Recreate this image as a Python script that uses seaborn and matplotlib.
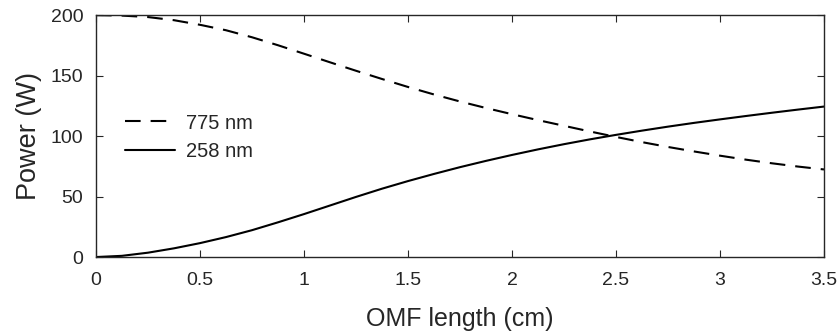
import numpy as np
import pandas as pd
import matplotlib
matplotlib.use("Agg")
import matplotlib.pyplot as plt
import seaborn as sns

length_cm = [0.0, 0.125, 0.25, 0.375, 0.5, 0.625, 0.75, 0.875, 1.0, 1.125, 1.25, 1.375,
             1.5, 1.625, 1.75, 1.875, 2.0, 2.125, 2.25, 2.375, 2.5, 2.625, 2.75, 2.875,
             3.0, 3.125, 3.25, 3.375, 3.5]
power_775 = [200, 199.6, 198.4, 195.8, 192, 187.5, 181.7, 175.1, 168.1, 161, 154, 147.2,
             140.6, 134.4, 128.6, 123.2, 118.1, 113.2, 108.5, 103.8, 99.3, 95.0, 91.0, 87.3,
             83.8, 80.5, 77.5, 74.8, 72.4]
power_258 = [0, 1.0, 3.6, 7.2, 11.5, 16.5, 22.2, 28.7, 35.5, 42.6, 49.7, 56.5,
             62.8, 68.7, 74.3, 79.5, 84.4, 89.0, 93.3, 97.3, 101.0, 104.5, 107.8, 110.9,
             113.8, 116.6, 119.3, 121.9, 124.4]
series_labels = ["775 nm", "258 nm"]
x_ticks = [0, 0.5, 1, 1.5, 2, 2.5, 3, 3.5]
x_tick_labels = ["0", "0.5", "1", "1.5", "2", "2.5", "3", "3.5"]
y_ticks = [0, 50, 100, 150, 200]

sns.set_theme(style="white")
plt.rcParams["font.family"] = ["Liberation Sans", "DejaVu Sans"]
txt = "#262626"

fig = plt.figure(figsize=(8.39, 3.36), dpi=100)
ax = fig.add_axes([0.1144, 0.235, 0.8677, 0.720])

df = pd.DataFrame({"x": length_cm * 2,
                   "y": power_775 + power_258,
                   "s": [series_labels[0]] * len(length_cm) + [series_labels[1]] * len(length_cm)})

sns.lineplot(data=df[df.s == series_labels[0]], x="x", y="y", ax=ax, color="black",
             lw=1.5, label=series_labels[0], dashes=False)
sns.lineplot(data=df[df.s == series_labels[1]], x="x", y="y", ax=ax, color="black",
             lw=1.5, label=series_labels[1], dashes=False)
ax.lines[0].set_dashes((7.5, 4.8))

ax.set_xlim(0, 3.5)
ax.set_ylim(0, 200)
ax.set_xticks(x_ticks)
ax.set_xticklabels(x_tick_labels)
ax.set_yticks(y_ticks)
ax.set_xlabel("OMF length (cm)", fontsize=18, color=txt)
ax.set_ylabel("Power (W)", fontsize=19.5, color=txt)
ax.xaxis.set_label_coords(0.5, -0.205)
ax.yaxis.set_label_coords(-0.074, 0.5)
ax.tick_params(direction="in", length=5, width=0.8, top=True, right=True,
               labelsize=14, colors=txt, pad=9, bottom=True, left=True)
ax.tick_params(axis="x", pad=10.5)
for sp in ax.spines.values():
    sp.set_visible(True)
    sp.set_color("#262626")
    sp.set_linewidth(1.0)

leg = ax.legend(loc="center left", bbox_to_anchor=(0.029, 0.496), frameon=False,
                fontsize=14.5, handlelength=2.5, handletextpad=0.5, labelspacing=0.45,
                borderaxespad=0)
for t in leg.get_texts():
    t.set_color(txt)
leg.get_lines()[0].set_dashes((7.5, 4.8))

fig.savefig("out.png", dpi=100)
